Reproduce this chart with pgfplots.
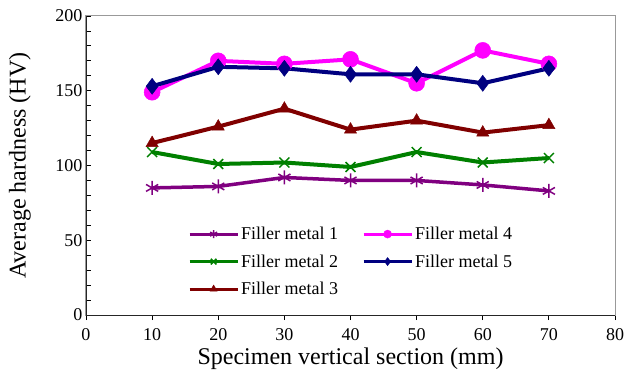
\documentclass[border=0pt]{standalone}
\usepackage{pgfplots}
\pgfplotsset{compat=1.18}
\usepackage{fontspec}
\setmainfont{Liberation Serif}
\definecolor{fpurple}{RGB}{128,0,128}
\definecolor{fgreen}{RGB}{0,128,0}
\definecolor{fred}{RGB}{128,0,0}
\definecolor{fmag}{RGB}{255,0,255}
\definecolor{fnavy}{RGB}{0,0,128}
\begin{document}
\begin{tikzpicture}
\begin{axis}[
  scale only axis,
  width=529pt, height=299pt,
  xmin=0, xmax=80, ymin=0, ymax=200,
  xtick={0,10,...,80}, ytick={0,50,...,200},
  minor y tick num=4,
  xtick pos=bottom, ytick pos=left,
  tick align=inside,
  major tick length=5pt, minor tick length=5pt,
  x tick style={yshift=-5pt},
  xticklabel style={yshift=-10pt},
  axis line style={gray!80, line width=1pt},
  every tick/.style={black, line width=0.8pt},
  tick label style={font=\fontsize{18}{20}\selectfont},
  /pgf/number format/assume math mode=true,
  xlabel={Specimen vertical section (mm)},
  ylabel={Average hardness (HV)},
  label style={font=\fontsize{24}{26}\selectfont},
  xlabel style={at={(axis description cs:0.5,-0.167)}, anchor=base},
  ylabel style={at={(axis description cs:-0.125,0.5)}, anchor=center},
  legend style={draw=none, fill=none, at={(0.187,0.308)}, anchor=north west,
    font=\fontsize{18}{20}\selectfont, row sep=9.5pt, /tikz/every even column/.append style={column sep=22pt}},
  legend columns=2,
  legend cell align=left,
  legend image code/.code={\draw[#1, line width=3pt, mark size=4pt, mark repeat=2, mark phase=2] plot coordinates {(0pt,0pt)(24pt,0pt)(48pt,0pt)};},
]
\addplot[color=fpurple, line width=3.5pt, mark=asterisk, mark size=7pt, mark options={line width=1.5pt}] coordinates {(10,85)(20,86)(30,92)(40,90)(50,90)(60,87)(70,83)};
\addlegendentry{Filler metal 1}
\addplot[color=fmag, line width=4pt, mark=*, mark size=8pt, mark options={line width=0.5pt}] coordinates {(10,149)(20,170)(30,168)(40,171)(50,155)(60,177)(70,168)};
\addlegendentry{Filler metal 4}
\addplot[color=fgreen, line width=4pt, mark=x, mark size=7pt, mark options={line width=1.5pt}] coordinates {(10,109)(20,101)(30,102)(40,99)(50,109)(60,102)(70,105)};
\addlegendentry{Filler metal 2}
\addplot[color=fnavy, line width=4pt, mark=diamond*, mark size=8pt, mark options={line width=0.5pt}] coordinates {(10,153)(20,166)(30,165)(40,161)(50,161)(60,155)(70,165)};
\addlegendentry{Filler metal 5}
\addplot[color=fred, line width=4pt, mark=triangle*, mark size=7pt, mark options={line width=0.5pt}] coordinates {(10,115)(20,126)(30,138)(40,124)(50,130)(60,122)(70,127)};
\addlegendentry{Filler metal 3}
\coordinate (O) at (axis description cs:0,0);
\coordinate (T) at (axis description cs:1,1);
\coordinate (L) at (axis description cs:0,1);
\coordinate (R) at (axis description cs:1,0);
\end{axis}
\draw[black!85, line width=1pt] (L) -- (O) -- (R);
\pgfresetboundingbox
\path ([shift={(-86pt,-56pt)}]O) rectangle ([shift={(9pt,16pt)}]T);
\end{tikzpicture}
\end{document}
